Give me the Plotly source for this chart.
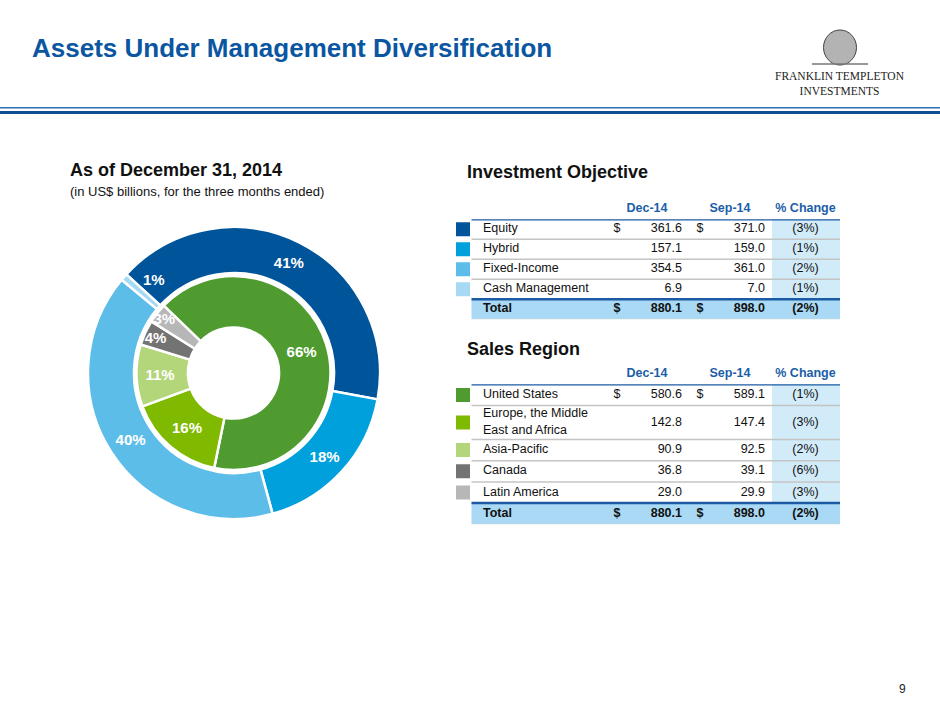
import math
import plotly.graph_objects as go

W, H = 940, 705

# --- data: AUM in US$ billions, for the three months ended ---
objective_names = ["Equity", "Hybrid", "Fixed-Income", "Cash Management"]
objective_dec14 = [361.6, 157.1, 354.5, 6.9]
objective_sep14 = [371.0, 159.0, 361.0, 7.0]
objective_change = [-3, -1, -2, -1]
objective_pct_labels = ["41%", "18%", "40%", "1%"]
objective_total = [880.1, 898.0, -2]

region_names = ["United States", "Europe, the Middle<br>East and Africa",
                "Asia-Pacific", "Canada", "Latin America"]
region_dec14 = [580.6, 142.8, 90.9, 36.8, 29.0]
region_sep14 = [589.1, 147.4, 92.5, 39.1, 29.9]
region_change = [-1, -3, -2, -6, -3]
region_pct_labels = ["66%", "16%", "11%", "4%", "3%"]
region_total = [880.1, 898.0, -2]

column_headers = ["Dec-14", "Sep-14", "% Change"]

# --- styling ---
objective_colors = ["#00549A", "#00A0DC", "#5DBDE9", "#A6D9F4"]
region_colors = ["#4F9B2F", "#7FB900", "#B4D67B", "#737373", "#B7B7B7"]
TITLE_BLUE = "#0B56A1"
HEAD_BLUE = "#1B5EA8"
RULE_BLUE = "#1C5BA3"
BAND = "#D1EBF9"
TOTAL_FILL = "#A9D9F4"
SANS = "Liberation Sans, Arial, Helvetica, sans-serif"
NARROW = "Liberation Sans Narrow, Arial Narrow, Liberation Sans, sans-serif"
SERIF = "Liberation Serif, Times New Roman, serif"

# donut boxes in pixels (left, right, top, bottom)
OUTER_BOX = (88, 380, 227, 519)
INNER_BOX = (136.5, 330.5, 276, 470)
OUTER_ROT, OUTER_HOLE = -47.5, 0.685
INNER_ROT, INNER_HOLE = -46, 0.47

# table column positions (x axis of the tables runs in pixels)
TBL_L, TBL_R = 471.5, 840
SWATCH_X = 463
LABEL_X = 483
DOLLAR1_X, DEC_X = 617, 682
DOLLAR2_X, SEP_X = 700, 765
CHG_L, CHG_R, CHG_X = 772, 840, 805.5
HEADER_X = [647, 730, 805.5]


def px(x):
    return x / W


def py(y):
    return 1 - y / H


def fmt_change(c):
    return f"({abs(c)}%)" if c < 0 else f"{c}%"


pie_font = dict(family=NARROW, size=15, color="white", weight="bold")
fig = go.Figure()

# tiny slices get their label just past the slice, inside the next one
obj_sum = sum(objective_dec14)
tiny = [i for i, v in enumerate(objective_dec14) if v / obj_sum < 0.02]
outer_text = ["" if i in tiny else t for i, t in enumerate(objective_pct_labels)]

# donut: outer ring = investment objective, inner ring = sales region
fig.add_trace(go.Pie(
    values=objective_dec14, labels=objective_names, text=outer_text,
    textinfo="text", textposition="inside", insidetextorientation="horizontal",
    sort=False, direction="clockwise", rotation=OUTER_ROT, hole=OUTER_HOLE,
    marker=dict(colors=objective_colors, line=dict(color="white", width=2.5)),
    textfont=pie_font,
    domain=dict(x=[px(OUTER_BOX[0]), px(OUTER_BOX[1])],
                y=[py(OUTER_BOX[3]), py(OUTER_BOX[2])]),
    hoverinfo="label+value",
))
fig.add_trace(go.Pie(
    values=region_dec14, labels=region_names, text=region_pct_labels,
    textinfo="text", textposition="inside", insidetextorientation="horizontal",
    sort=False, direction="clockwise", rotation=INNER_ROT, hole=INNER_HOLE,
    marker=dict(colors=region_colors, line=dict(color="white", width=2.5)),
    textfont=pie_font,
    domain=dict(x=[px(INNER_BOX[0]), px(INNER_BOX[1])],
                y=[py(INNER_BOX[3]), py(INNER_BOX[2])]),
    hoverinfo="label+value",
))

shapes = []
annotations = []

cx = (OUTER_BOX[0] + OUTER_BOX[1]) / 2
cy = (OUTER_BOX[2] + OUTER_BOX[3]) / 2
r_mid = (OUTER_BOX[1] - OUTER_BOX[0]) / 2 * (1 + OUTER_HOLE) / 2
for i in tiny:
    end = OUTER_ROT + 360 * sum(objective_dec14[:i + 1]) / obj_sum
    ang = math.radians(end + 7)
    annotations.append(dict(
        text=objective_pct_labels[i], xref="paper", yref="paper",
        x=px(cx + r_mid * math.sin(ang)), y=py(cy - r_mid * math.cos(ang)),
        xanchor="center", yanchor="middle", showarrow=False, font=pie_font,
    ))


def add_table(k, names, dec14, sep14, change, total, colors, row_heights, top, bottom):
    xa, ya = f"x{k}", f"y{k}"
    n = len(names)
    edges = [0]
    for h in row_heights:
        edges.append(edges[-1] + h)
    mids = [(a + b) / 2 for a, b in zip(edges[:-1], edges[1:])]

    # % change band and total row fill
    fig.add_trace(go.Bar(
        orientation="h", y=mids[:n], x=[CHG_R - CHG_L] * n, base=CHG_L,
        width=row_heights[:n], marker=dict(color=BAND, line_width=0),
        xaxis=xa, yaxis=ya, hoverinfo="skip",
    ))
    fig.add_trace(go.Bar(
        orientation="h", y=[mids[n]], x=[TBL_R - TBL_L], base=TBL_L,
        width=[row_heights[n]], marker=dict(color=TOTAL_FILL, line_width=0),
        xaxis=xa, yaxis=ya, hoverinfo="skip",
    ))

    # colour swatches (legend for the donut)
    fig.add_trace(go.Scatter(
        x=[SWATCH_X] * n, y=mids[:n], mode="markers",
        marker=dict(symbol="square", size=14, color=colors, line_width=0),
        xaxis=xa, yaxis=ya, hoverinfo="skip",
    ))

    font = dict(family=SANS, size=12.5, color="#111111")
    labels = names + ["<b>Total</b>"]
    dollars = ["$"] + [""] * (n - 1) + ["<b>$</b>"]
    dec_txt = [f"{v:.1f}" for v in dec14] + [f"<b>{total[0]:.1f}</b>"]
    sep_txt = [f"{v:.1f}" for v in sep14] + [f"<b>{total[1]:.1f}</b>"]
    chg_txt = [fmt_change(c) for c in change] + [f"<b>{fmt_change(total[2])}</b>"]

    columns = [
        (LABEL_X, labels, "middle right"),
        (DOLLAR1_X, dollars, "middle center"),
        (DEC_X, dec_txt, "middle left"),
        (DOLLAR2_X, dollars, "middle center"),
        (SEP_X, sep_txt, "middle left"),
        (CHG_X, chg_txt, "middle center"),
    ]
    for x, txt, pos in columns:
        fig.add_trace(go.Scatter(
            x=[x] * len(txt), y=mids, mode="text", text=txt, textposition=pos,
            textfont=font, xaxis=xa, yaxis=ya, hoverinfo="skip",
        ))

    def rule(y, color, width):
        shapes.append(dict(type="line", xref=xa, yref=ya, x0=TBL_L, x1=TBL_R,
                           y0=y, y1=y, line=dict(color=color, width=width)))

    for e in edges[1:n]:
        rule(e, "#C4C4C4", 1.5)
    rule(edges[-1], "#CFCFCF", 1)
    rule(edges[0], RULE_BLUE, 2.5)
    rule(edges[n], RULE_BLUE, 2.5)

    fig.update_layout({
        f"xaxis{k}": dict(
            domain=[px(450), px(842)], range=[450, 842], anchor=ya, side="top",
            showgrid=False, zeroline=False, showline=False, fixedrange=True,
            tickmode="array", tickvals=HEADER_X, ticktext=column_headers,
            ticks="outside", ticklen=1, tickcolor="rgba(0,0,0,0)",
            tickfont=dict(family=SANS, size=12.5, color=HEAD_BLUE, weight="bold"),
        ),
        f"yaxis{k}": dict(
            domain=[py(bottom), py(top)], range=[edges[-1], 0], anchor=xa,
            visible=False, fixedrange=True,
        ),
    })


add_table(2, objective_names, objective_dec14, objective_sep14, objective_change,
          objective_total, objective_colors, [1, 1, 1, 1, 1], 219.3, 319.3)
add_table(3, region_names, region_dec14, region_sep14, region_change,
          region_total, region_colors, [1, 1.6, 1, 1, 1, 1], 384.3, 524.3)

# header rules
shapes.append(dict(type="line", xref="paper", yref="paper", x0=0, x1=1,
                   y0=py(107.7), y1=py(107.7), line=dict(color="#2B6DB5", width=1.5)))
shapes.append(dict(type="line", xref="paper", yref="paper", x0=0, x1=1,
                   y0=py(112.5), y1=py(112.5), line=dict(color="#0D4F97", width=3)))
# logo medallion (simplified)
shapes.append(dict(type="circle", xref="paper", yref="paper",
                   x0=px(823.5), x1=px(856.5), y0=py(65), y1=py(30),
                   fillcolor="#B3B3B3", line=dict(color="#444444", width=1)))
shapes.append(dict(type="line", xref="paper", yref="paper",
                   x0=px(812), x1=px(868), y0=py(64), y1=py(64),
                   line=dict(color="#777777", width=1.5)))


def note(text, x, y, size, color="#111111", bold=False, family=SANS, anchor="left"):
    return dict(text=text, x=px(x), y=py(y), xref="paper", yref="paper",
                xanchor=anchor, yanchor="middle", showarrow=False,
                font=dict(family=family, size=size, color=color,
                          weight="bold" if bold else "normal"))


annotations += [
    note("Assets Under Management Diversification", 30, 48, 26, TITLE_BLUE, True),
    note("As of December 31, 2014", 68, 170, 18, bold=True),
    note("(in US$ billions, for the three months ended)", 68, 191.5, 13),
    note("Investment Objective", 465, 172.5, 18, bold=True),
    note("Sales Region", 465, 349, 18, bold=True),
    note("FRANKLIN TEMPLETON<br>INVESTMENTS", 839.5, 84, 11.5, "#222222",
         family=SERIF, anchor="center"),
    note("9", 902, 689, 12, "#222222", anchor="center"),
]

fig.update_layout(
    width=W, height=H,
    margin=dict(l=0, r=0, t=0, b=0),
    paper_bgcolor="white", plot_bgcolor="white",
    showlegend=False, barmode="overlay",
    uniformtext=dict(minsize=15, mode="show"),
    shapes=shapes, annotations=annotations,
)

fig.write_html("out.html", config={"displayModeBar": False},
               post_script="document.body.style.margin='0';")
